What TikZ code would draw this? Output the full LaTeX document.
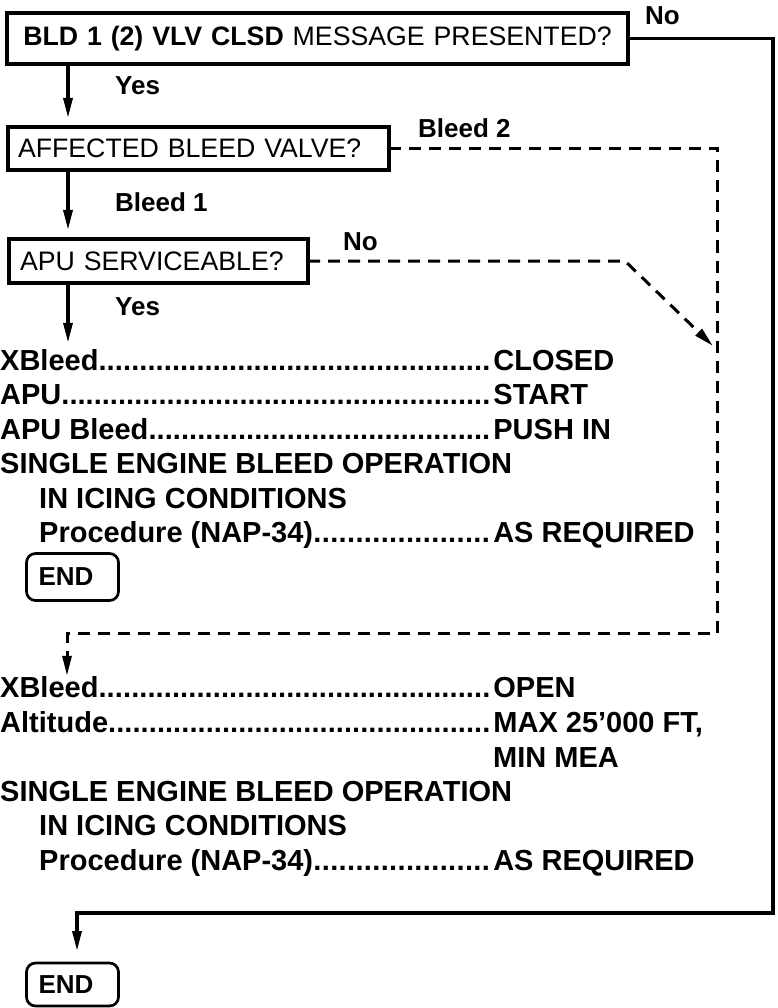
\documentclass[tikz,border=0pt]{standalone}
\usepackage{fontspec}
\setmainfont{Liberation Sans}
\usetikzlibrary{arrows.meta, positioning, calc}
\definecolor{ChartBlack}{HTML}{000000}

\newcommand{\listfont}{\fontsize{29}{34.6}\selectfont\bfseries}
\newcommand{\qfont}{\fontsize{26.7}{32}\selectfont}
\newcommand{\tagfont}{\fontsize{26}{30}\selectfont\bfseries}
\newcommand{\chk}[3][493pt]{\makebox[#1][l]{#2\xleaders\hbox{.}\hfill\hspace*{3pt}}#3}

\tikzset{
    % Box styles - sharp corners for questions
    question/.style={
        rectangle,
        draw=ChartBlack,
        line width=4pt,
        outer sep=0pt,
        inner xsep=10pt,
        inner ysep=0pt,
        align=left,
        font=\qfont
    },
    endbox/.style={
        rectangle,
        rounded corners=9pt,
        draw=ChartBlack,
        line width=2.7pt,
        outer sep=0pt,
        inner xsep=12pt,
        text width=68pt,
        minimum height=47pt,
        align=left,
        font=\tagfont
    },
    listitem/.style={
        anchor=base west,
        inner sep=0pt,
        font=\listfont
    },
    branchlabel/.style={
        anchor=base west,
        inner sep=0pt,
        font=\tagfont
    },
    % Arrow styles
    arrow/.style={
        -{Triangle[length=20pt,width=9pt]},
        line width=3.3pt,
        draw=ChartBlack
    },
    dashedarrow/.style={
        arrow,
        line width=3pt,
        dash pattern=on 12pt off 8pt
    }
}

\begin{document}
\begin{tikzpicture}[x=1pt, y=-1pt]
    \useasboundingbox (0,0) rectangle (777,1008);

    \node[question, minimum width=621pt, minimum height=51pt, text width=599pt, align=center] (msg) at (317.5,38.5) {\textbf{BLD 1 (2) VLV CLSD} MESSAGE PRESENTED?};
    \node[question, minimum width=381pt, minimum height=43pt, text width=361pt] (valve) at (198.5,148.5) {AFFECTED BLEED VALVE?};
    \node[question, minimum width=299pt, minimum height=44pt, inner xsep=11pt, text width=277pt] (apu) at (158.5,261) {APU SERVICEABLE?};

    \node[branchlabel] (no1) at (645,25) {No};
    \node[branchlabel] (yes1) at (115,95) {Yes};
    \node[branchlabel] (bleed2) at (418,138) {Bleed 2};
    \node[branchlabel] (bleed1) at (115,212) {Bleed 1};
    \node[branchlabel] (no2) at (343,250) {No};
    \node[branchlabel] (yes2) at (115,315) {Yes};

    % Bleed 1 with APU
    \node[listitem] (xbleedA) at (0,370) {\chk{XBleed}{CLOSED}};
    \node[listitem] (apuA) at (0,404.5) {\chk{APU}{START}};
    \node[listitem] (apubleedA) at (0,439) {\chk{APU Bleed}{PUSH IN}};
    \node[listitem] (singleA) at (0,473.5) {SINGLE ENGINE BLEED OPERATION};
    \node[listitem] (icingA) at (39,508) {IN ICING CONDITIONS};
    \node[listitem] (procA) at (39,542.5) {\chk[454pt]{Procedure (NAP-34)}{AS REQUIRED}};
    \node[endbox] (endA) at (72.5,577) {END};

    % Bleed 2 or no APU
    \node[listitem] (xbleedB) at (0,697) {\chk{XBleed}{OPEN}};
    \node[listitem] (altB) at (0,732) {\chk{Altitude}{MAX 25’000 FT,}};
    \node[listitem] (meaB) at (493,767) {MIN MEA};
    \node[listitem] (singleB) at (0,801) {SINGLE ENGINE BLEED OPERATION};
    \node[listitem] (icingB) at (39,835.5) {IN ICING CONDITIONS};
    \node[listitem] (procB) at (39,870) {\chk[454pt]{Procedure (NAP-34)}{AS REQUIRED}};
    \node[endbox, minimum height=43pt] (endB) at (72.5,984.5) {END};

    \coordinate (spine) at (68,0);
    \coordinate (noEast) at (773,38.5);
    \coordinate (noSouth) at (773,913);
    \coordinate (noWest) at (77,913);
    \coordinate (b2East) at (717,148.5);
    \coordinate (b2South) at (717,633);
    \coordinate (b2West) at (67,633);
    \coordinate (apuBend) at (625,261);
    \coordinate (apuJoin) at (713,346);

    \draw[arrow, shorten >=9pt] (msg.south -| spine) -- (valve.north -| spine);
    \draw[arrow, shorten >=9pt] (valve.south -| spine) -- (apu.north -| spine);
    \draw[arrow, shorten >=6pt] (apu.south -| spine) -- (xbleedA.north -| spine);
    \draw[arrow, shorten >=12pt] (msg.east) -- (noEast) -- (noSouth) -- (noWest) -- (endB.north -| noWest);
    \draw[dashedarrow] (valve.east) -- (b2East) -- (b2South) -- (b2West) -- (xbleedB.north -| b2West);
    \draw[dashedarrow] (apu.east) -- (apuBend) -- (apuJoin);
\end{tikzpicture}
\end{document}
